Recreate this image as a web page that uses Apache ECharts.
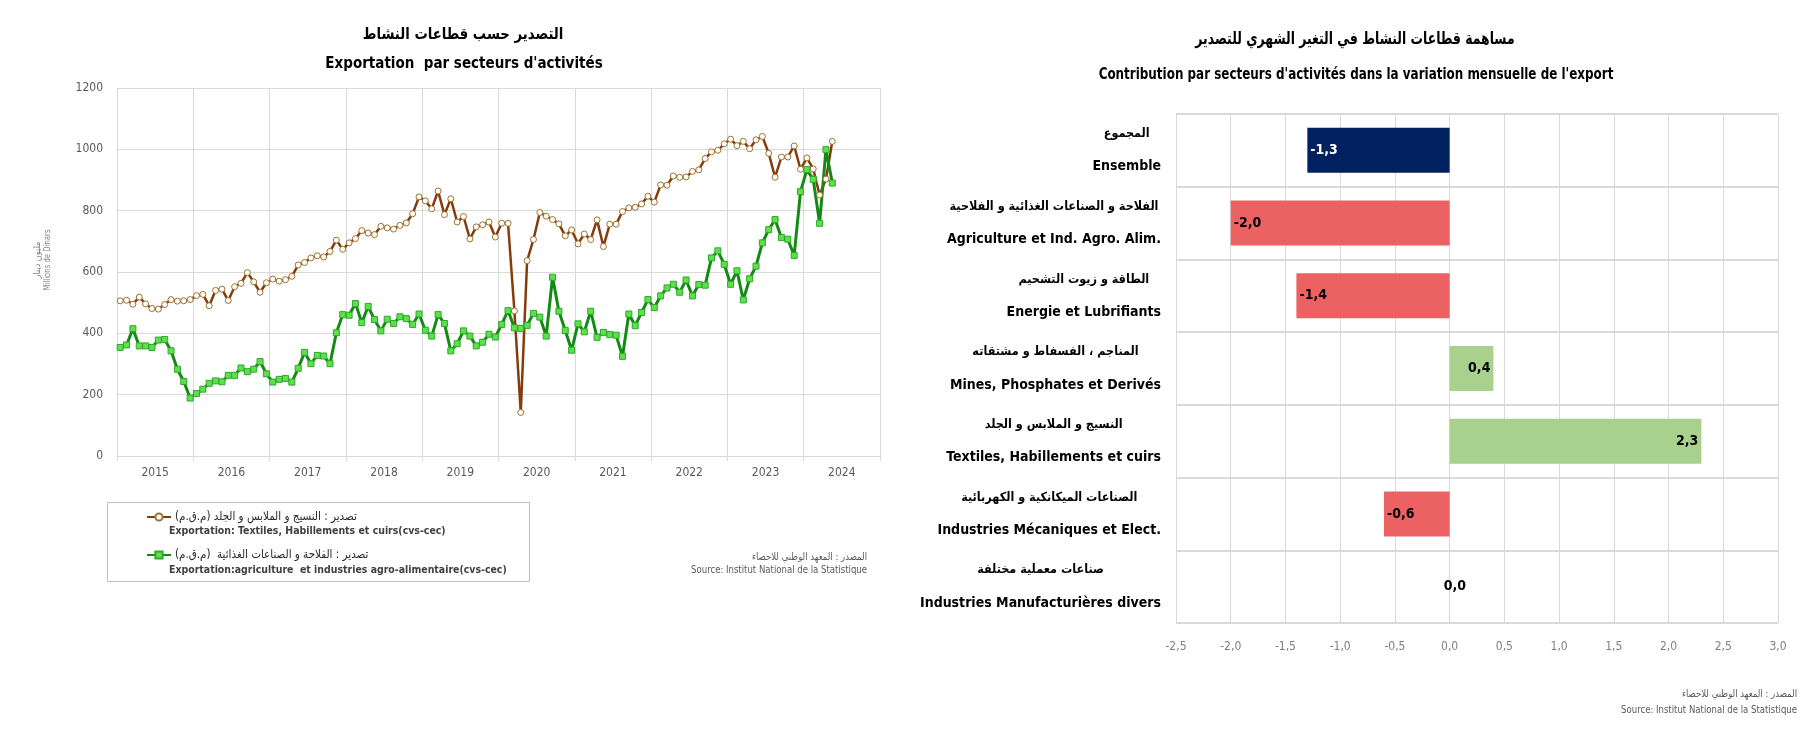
<!DOCTYPE html>
<html><head><meta charset="utf-8">
<script src="https://cdn.jsdelivr.net/npm/echarts@6/dist/echarts.min.js"></script>
<style>html,body{margin:0;padding:0;background:#fff}#c{width:1806px;height:730px}</style>
</head><body><div id="c"></div>
<script>
// ---------- data ----------
const years = ['2015','2016','2017','2018','2019','2020','2021','2022','2023','2024'];
// monthly values, Jan 2015 .. May 2024 (million dinars, cvs-cec)
const textiles = [
 506,508,495,518,496,481,479,494,510,505,506,510,
 523,527,490,540,544,507,552,563,598,568,534,565,
 577,570,575,586,623,631,646,653,649,667,704,674,
 695,709,735,727,722,749,744,740,752,760,790,845,
 832,806,864,787,839,763,781,708,747,754,763,714,
 759,759,473,142,637,706,794,782,771,757,718,737,
 692,724,706,770,683,756,756,797,809,811,822,847,
 828,884,883,913,909,910,928,933,970,992,997,1018,
 1033,1012,1026,1002,1031,1042,987,909,975,975,1011,935,
 972,936,851,903,1026];
const agri = [
 354,362,415,359,359,354,378,380,343,283,243,189,
 204,218,237,245,242,263,263,287,275,283,308,268,
 241,250,253,241,286,338,301,328,326,301,402,461,
 459,497,435,488,445,408,446,432,454,448,429,463,
 410,391,461,432,343,366,408,391,359,371,397,388,
 429,474,418,416,426,465,453,391,583,472,409,345,
 431,405,472,387,403,396,394,325,463,425,468,510,
 484,522,548,560,534,574,522,559,557,646,669,625,
 560,604,509,578,619,695,738,771,712,707,654,862,
 934,902,759,999,890];
const sectorsAr = [
 'المجموع',
 'الفلاحة و الصناعات الغذائية و الفلاحية',
 'الطاقة و زيوت التشحيم',
 'المناجم ، الفسفاط و مشتقاته',
 'النسيج و الملابس و الجلد',
 'الصناعات الميكانكية و الكهربائية',
 'صناعات معملية مختلفة'];
const sectorsFr = [
 'Ensemble',
 'Agriculture et Ind. Agro. Alim.',
 'Energie et Lubrifiants',
 'Mines, Phosphates et Derivés',
 'Textiles, Habillements et cuirs',
 'Industries Mécaniques et Elect.',
 'Industries Manufacturières divers'];
const contrib = [-1.3, -2.0, -1.4, 0.4, 2.3, -0.6, 0.0];
const serieNamesAr = ['تصدير : النسيج و الملابس و الجلد (م.ق.م)', 'تصدير : الفلاحة و الصناعات الغذائية  (م.ق.م)'];
const serieNamesFr = ['Exportation: Textiles, Habillements et cuirs(cvs-cec)', 'Exportation:agriculture  et industries agro-alimentaire(cvs-cec)'];

// ---------- helpers ----------
const ar = s => '\u202B' + s + '\u202C';
const NARROW = "'DejaVu Sans Condensed','Liberation Sans',sans-serif";
const ARF = "'DejaVu Sans Condensed','DejaVu Sans',sans-serif";
const comma = v => Number(v).toFixed(1).replace('.', ',');

function txt(x, y, text, size, sx, opts) {
  return {type:'text', x:x, y:y, scaleX:sx, silent:true, style:Object.assign({
    text:text, fontSize:size, fontFamily:NARROW, fill:'#000', align:'center', verticalAlign:'middle'
  }, opts || {})};
}

const chart = echarts.init(document.getElementById('c'), null, {renderer:'canvas'});
const option = {
  animation:false,
  backgroundColor:'#fff',
  grid:[
    {left:117, right:926, top:88, bottom:274, containLabel:false},
    {left:1176, right:28, top:114, bottom:107, containLabel:false}
  ],
  legend:{
    orient:'vertical', left:141, top:506, itemWidth:24, itemHeight:9, itemGap:26,
    data:[ar(serieNamesAr[0]), ar(serieNamesAr[1])],
    textStyle:{fontSize:11.5, color:'#262626', fontFamily:ARF, padding:[0, 0, 0, -1]}
  },
  xAxis:[
    {gridIndex:0, type:'value', min:0, max:120, interval:12,
     axisLabel:{show:false}, axisLine:{show:true, lineStyle:{color:'#d9d9d9'}},
     axisTick:{show:true, length:5, lineStyle:{color:'#d9d9d9'}},
     splitLine:{show:true, lineStyle:{color:'#d9d9d9'}}},
    {gridIndex:0, type:'category', data:years, position:'bottom', boundaryGap:true,
     axisLine:{show:false}, axisTick:{show:false}, splitLine:{show:false},
     axisLabel:{color:'#595959', fontSize:12, margin:11, fontFamily:NARROW}},
    {gridIndex:1, type:'value', min:-2.5, max:3, interval:0.5,
     axisLabel:{formatter:comma, color:'#7f7f7f', fontSize:12, margin:18, fontFamily:NARROW},
     axisLine:{show:false}, axisTick:{show:false},
     splitLine:{show:true, lineStyle:{color:'#d9d9d9'}}}
  ],
  yAxis:[
    {gridIndex:0, type:'value', min:0, max:1200, interval:200,
     axisLabel:{color:'#595959', fontSize:12, margin:14, fontFamily:NARROW, formatter:v => String(v)},
     axisLine:{show:false}, axisTick:{show:false},
     splitLine:{show:true, lineStyle:{color:'#d9d9d9'}}},
    {gridIndex:1, type:'category', inverse:true, data:sectorsFr,
     axisLine:{show:false}, axisTick:{show:false},
     splitLine:{show:true, interval:0, lineStyle:{color:'#d9d9d9', width:2}},
     axisLabel:{interval:0, margin:15, align:'right',
       formatter:(v, i) => '{a|' + ar(sectorsAr[i]) + '}\n{b|' + v + '}',
       rich:{
         a:{fontSize:12.5, fontWeight:'bold', fontFamily:ARF, color:'#000', lineHeight:33, align:'center'},
         b:{fontSize:14, fontWeight:'bold', fontFamily:NARROW, color:'#000', lineHeight:33, align:'center'}
       }}}
  ],
  series:[
    {type:'line', name:ar(serieNamesAr[0]), xAxisIndex:0, yAxisIndex:0,
     data:textiles.map((v, i) => [i + 0.5, v]),
     symbol:'circle', symbolSize:6, showSymbol:true,
     lineStyle:{color:'#843c0c', width:2.5},
     itemStyle:{color:'#ffffff', borderColor:'#a0702a', borderWidth:1}},
    {type:'line', name:ar(serieNamesAr[1]), xAxisIndex:0, yAxisIndex:0,
     data:agri.map((v, i) => [i + 0.5, v]),
     symbol:'rect', symbolSize:6, showSymbol:true,
     lineStyle:{color:'#138a13', width:3},
     itemStyle:{color:'#5ee04a', borderColor:'#2ea82e', borderWidth:1}},
    {type:'bar', xAxisIndex:2, yAxisIndex:1, barWidth:45,
     data:contrib.map((v, i) => ({
       value:v,
       itemStyle:{color: i === 0 ? '#002060' : (v < 0 ? '#ec6262' : '#a9d18e')},
       label: v === 0
         ? {position:'right', offset:[-9, 0], color:'#000000'}
         : {position: v < 0 ? 'insideLeft' : 'insideRight', color: i === 0 ? '#ffffff' : '#000000'}
     })),
     label:{show:true, formatter:p => comma(p.value), fontSize:14, fontWeight:'bold', fontFamily:NARROW, distance:3}}
  ],
  graphic:[
    txt(463, 35, ar('التصدير حسب قطاعات النشاط'), 16, 0.92, {fontWeight:'bold', fontFamily:ARF}),
    txt(464, 64, "Exportation  par secteurs d'activités", 15, 1, {fontWeight:'bold'}),
    txt(1355, 40, ar('مساهمة قطاعات النشاط في التغير الشهري للتصدير'), 17, 0.81, {fontWeight:'bold', fontFamily:ARF}),
    txt(1356, 75, "Contribution par secteurs d'activités dans la variation mensuelle de l'export", 16, 0.83, {fontWeight:'bold'}),
    {type:'rect', shape:{x:107.5, y:502.5, width:422, height:79}, silent:true,
     style:{fill:'none', stroke:'#bfbfbf', lineWidth:1}},
    txt(169, 531, serieNamesFr[0], 11, 0.95, {align:'left', fontWeight:'bold', fill:'#404040'}),
    txt(169, 570, serieNamesFr[1], 11, 0.95, {align:'left', fontWeight:'bold', fill:'#404040'}),
    txt(867, 557, ar('المصدر : المعهد الوطني للاحصاء'), 10, 0.95, {align:'right', fontFamily:ARF, fill:'#595959'}),
    txt(867, 570, 'Source: Institut National de la Statistique', 10, 0.95, {align:'right', fill:'#595959'}),
    txt(1797, 694, ar('المصدر : المعهد الوطني للاحصاء'), 10, 0.95, {align:'right', fontFamily:ARF, fill:'#595959'}),
    txt(1797, 710, 'Source: Institut National de la Statistique', 10, 0.95, {align:'right', fill:'#595959'}),
    {type:'text', x:38, y:260, rotation:Math.PI / 2, silent:true,
     style:{text:ar('مليون دينار'), fontSize:9, fontFamily:ARF, fill:'#7f7f7f', align:'center', verticalAlign:'middle'}},
    {type:'text', x:48, y:260, rotation:Math.PI / 2, scaleX:0.85, silent:true,
     style:{text:'Millions de Dinars', fontSize:9, fontFamily:NARROW, fill:'#7f7f7f', align:'center', verticalAlign:'middle'}}
  ]
};
chart.setOption(option);
</script>
</body></html>
